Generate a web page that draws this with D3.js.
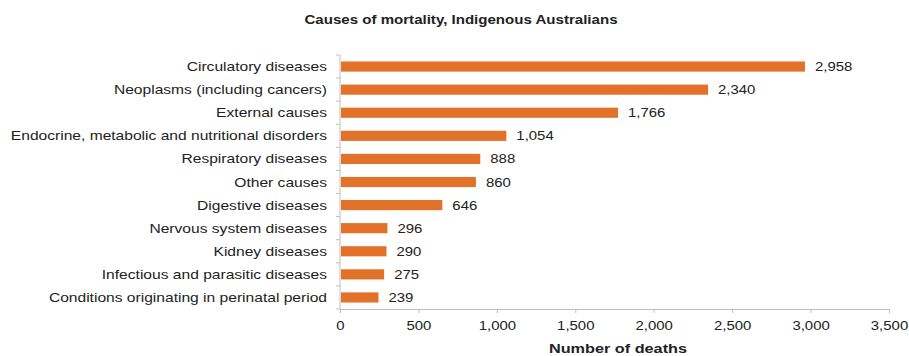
<!DOCTYPE html>
<html>
<head>
<meta charset="utf-8">
<script src="https://cdn.jsdelivr.net/npm/d3@7"></script>
<style>
  body { margin: 0; background: #fff; }
  text { font-family: "Liberation Sans", Arial, sans-serif; fill: #222; }
</style>
</head>
<body>
<div id="chart"></div>
<script>
const causes = [
  "Circulatory diseases",
  "Neoplasms (including cancers)",
  "External causes",
  "Endocrine, metabolic and nutritional disorders",
  "Respiratory diseases",
  "Other causes",
  "Digestive diseases",
  "Nervous system diseases",
  "Kidney diseases",
  "Infectious and parasitic diseases",
  "Conditions originating in perinatal period"
]
const deaths = [2958, 2340, 1766, 1054, 888, 860, 646, 296, 290, 275, 239]
const x_ticks = [0, 500, 1000, 1500, 2000, 2500, 3000, 3500]

const width = 909
const height = 356
const margin = {top: 55, right: 20, bottom: 47, left: 340}
const bar_colour = "#e2712a"
const axis_colour = "#bdbdbd"
// the original text is a bit stretched sideways
const sx_label = 1.2
const sx_num = 1.15

const rows = causes.map((c, i) => ({cause: c, value: deaths[i]}))

const svg = d3.select("#chart")
  .append("svg")
  .attr("width", width)
  .attr("height", height)

const x = d3.scaleLinear()
  .domain([0, 3500])
  .range([margin.left, 889])

const y = d3.scaleBand()
  .domain(causes)
  .range([margin.top, height - margin.bottom])
  .paddingInner(0.56)
  .paddingOuter(0.28)

const mid = d => y(d.cause) + y.bandwidth() / 2

// title
svg.append("text")
  .attr("transform", "translate(461,24) scale(1.16,1)")
  .attr("text-anchor", "middle")
  .attr("font-size", "13px")
  .attr("font-weight", "bold")
  .text("Causes of mortality, Indigenous Australians")

// bars
svg.selectAll(".bar")
  .data(rows)
  .enter().append("rect")
  .attr("class", "bar")
  .attr("x", x(0) + 1)
  .attr("y", d => y(d.cause))
  .attr("width", d => x(d.value) - x(0))
  .attr("height", y.bandwidth())
  .attr("fill", bar_colour)

// value labels
svg.selectAll(".val")
  .data(rows)
  .enter().append("text")
  .attr("class", "val")
  .attr("transform", d => `translate(${x(d.value) + 11},${mid(d)}) scale(${sx_num},1)`)
  .attr("dy", "0.35em")
  .attr("font-size", "13px")
  .text(d => d3.format(",")(d.value))

// x axis
const xAxis = svg.append("g")
  .attr("transform", `translate(0,${height - margin.bottom})`)
  .call(d3.axisBottom(x).tickValues(x_ticks).tickFormat(d3.format(",")).tickSize(4).tickPadding(8))
xAxis.select(".domain").attr("stroke", axis_colour)
xAxis.selectAll(".tick line").attr("stroke", axis_colour)
xAxis.selectAll(".tick text")
  .attr("font-size", "13px")
  .attr("font-family", "Liberation Sans, Arial, sans-serif")
  .attr("fill", "#222")
  .attr("transform", `scale(${sx_num},1)`)

// y axis: line with ticks at category boundaries
const yAxis = svg.append("g")
yAxis.append("line")
  .attr("x1", x(0)).attr("x2", x(0))
  .attr("y1", margin.top).attr("y2", height - margin.bottom)
  .attr("stroke", axis_colour)
const boundaries = d3.range(causes.length + 1).map(i => margin.top + i * (height - margin.top - margin.bottom) / causes.length)
yAxis.selectAll(".ytick")
  .data(boundaries)
  .enter().append("line")
  .attr("class", "ytick")
  .attr("x1", x(0) - 4).attr("x2", x(0))
  .attr("y1", d => d).attr("y2", d => d)
  .attr("stroke", axis_colour)

svg.selectAll(".cat")
  .data(rows)
  .enter().append("text")
  .attr("class", "cat")
  .attr("transform", d => `translate(${x(0) - 13},${mid(d)}) scale(${sx_label},1)`)
  .attr("dy", "0.35em")
  .attr("text-anchor", "end")
  .attr("font-size", "13px")
  .text(d => d.cause)

// x axis title
svg.append("text")
  .attr("transform", "translate(618,353) scale(1.25,1)")
  .attr("text-anchor", "middle")
  .attr("font-size", "13px")
  .attr("font-weight", "bold")
  .text("Number of deaths")
</script>
</body>
</html>
